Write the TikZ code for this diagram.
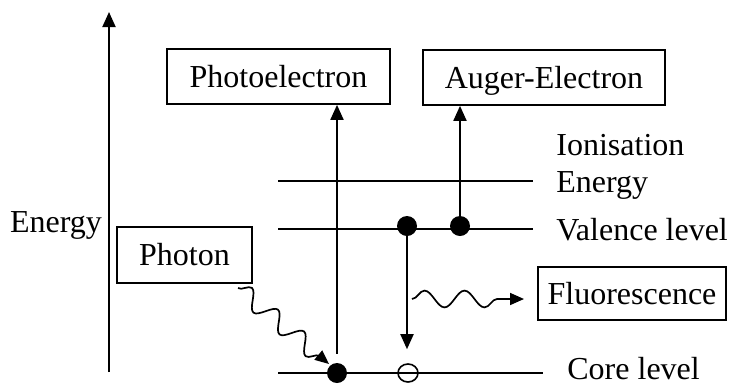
\documentclass[tikz,border=0pt]{standalone}
\usepackage{fontspec}
\setmainfont{Liberation Serif}
\usetikzlibrary{arrows.meta,decorations.pathmorphing,shapes.geometric,calc}
\begin{document}
\begin{tikzpicture}[x=0.5pt,y=-0.5pt,
  every node/.style={font=\fontsize{16}{19}\selectfont, text height=10.6pt, text depth=0pt, inner sep=0pt},
  box/.style={draw, line width=0.85pt},
  lvl/.style={line width=0.95pt},
  arr/.style={line width=0.95pt, -{Triangle[length=7.5pt,width=6.5pt]}},
  dot/.style={circle, fill, minimum size=10pt, text height=0pt},
  hole/.style={ellipse, draw, line width=0.8pt, minimum width=10pt, minimum height=9pt, text height=0pt},
  wavy/.style={line width=0.85pt, -{Triangle[length=7pt,width=6pt]},
    decorate, decoration={snake, segment length=17pt, amplitude=4.5pt, post length=6pt}}
]
\useasboundingbox (0,0) rectangle (740,387);

% energy axis
\coordinate (axb) at (109,372);
\coordinate (axt) at (109,12);
\draw[arr] (axb) -- (axt);
\node (energy) at (56,222) {Energy};

% boxes
\node[box, minimum width=111.5pt, minimum height=27.5pt] (photo) at (278.5,76.5) {Photoelectron};
\node[box, minimum width=121pt, minimum height=27.5pt] (auger) at (544,77.5) {Auger-Electron};
\node[box, minimum width=67.5pt, minimum height=28pt] (photon) at (184.5,255) {Photon};
\node[box, minimum width=94pt, minimum height=26.5pt] (fluo) at (632,293.5) {Fluorescence};

% levels
\coordinate (ionL) at (278,181);
\coordinate (ionR) at (533,181);
\coordinate (valL) at (278,229);
\coordinate (valR) at (533,229);
\coordinate (corL) at (278,373);
\coordinate (corR) at (543,373);
\draw[lvl] (ionL) -- (ionR);
\draw[lvl] (valL) -- (valR);
\draw[lvl] (corL) -- (corR);

\node[anchor=west] (ion1) at (556,144.5) {Ionisation};
\node[anchor=west] (ion2) at (556,181.5) {Energy};
\node[anchor=west] (val) at (556,230) {Valence level};
\node[anchor=west] (core) at (567,369) {Core level};

% electrons
\node[dot] (cdot) at (337,373) {};
\node[hole] (chole) at (408,373) {};
\node[dot] (v1) at (407,226) {};
\node[dot] (v2) at (460,226) {};

% transitions
\draw[arr, shorten <=4.5pt] (cdot.north) -- (cdot.north |- photo.south);
\draw[arr] (v2.center) -- (v2.center |- auger.south);
\draw[arr, shorten >=7pt] (v1.center) -- (chole.north -| v1.center);

% wavy photons
\coordinate (pw0) at (238,288);
\coordinate (pw1) at (329,364);
\draw[wavy] (pw0) -- (pw1);
\coordinate (fw0) at (412,299);
\coordinate (fw1) at (524,299);
\draw[wavy, decoration={snake, segment length=20pt, amplitude=4.2pt, post length=6pt}] (fw0) -- (fw1);
\end{tikzpicture}
\end{document}
